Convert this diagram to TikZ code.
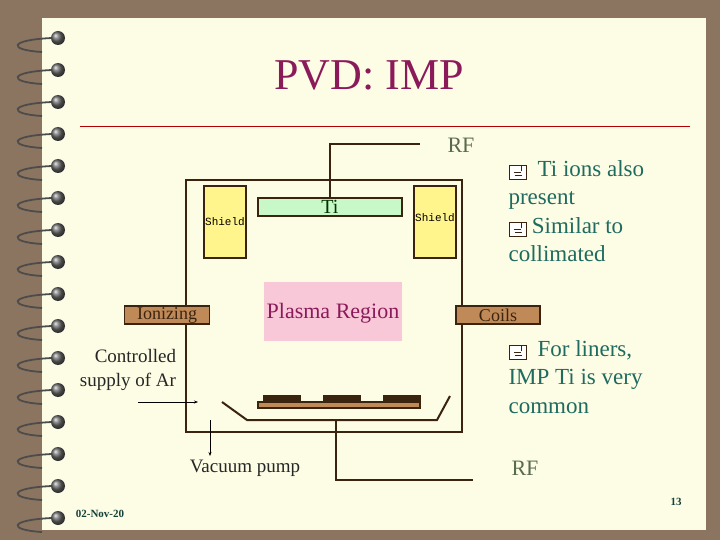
\documentclass[tikz,border=0pt]{standalone}
\usepackage{fontspec}
\setmainfont{Liberation Serif}
\newfontfamily\monof{Liberation Mono}
\usetikzlibrary{arrows.meta}
\definecolor{bgb}{HTML}{8B7560}
\definecolor{paper}{HTML}{FDFCE4}
\definecolor{teal}{HTML}{1F6B60}
\definecolor{wire}{HTML}{3A2410}
\definecolor{copper}{HTML}{C08A58}
\definecolor{shieldc}{HTML}{FFF58C}
\definecolor{tic}{HTML}{C8F8C8}
\definecolor{pink}{HTML}{F8C8D8}
\definecolor{titlec}{HTML}{8B1A5A}
\definecolor{grayg}{HTML}{5A6A50}
\newcommand{\envb}{\tikz[baseline=-1pt,x=1pt,y=1pt]{\draw[wire,line width=0.6pt,fill=white](0,-4)rectangle(17,10);\draw[wire,line width=0.8pt](5,3)--(12,3)(6,0)--(13,0)(13,4)--(13,9);}}
\begin{document}
\begin{tikzpicture}[x=1pt,y=-1pt,
  w/.style={draw=wire,line width=2pt},
  box/.style={draw=wire,line width=1.5pt,inner sep=0pt},
  lab/.style={font=\fontsize{18}{19}\selectfont,text=wire},
  shl/.style={box,fill=shieldc,minimum width=42pt,minimum height=72pt,font=\monof\fontsize{11}{11}\selectfont},
  bul/.style={font=\fontsize{23}{28.5}\selectfont,text=teal,align=left,anchor=north west}]
\useasboundingbox (0,0) rectangle (720,540);
\fill[bgb] (0,0) rectangle (720,540);
\fill[paper] (42,18) rectangle (706,530);
% spiral
\foreach \y in {38,70,...,518}{
  \draw[gray!60!black,line width=1.8pt] (42,\y+14) .. controls (8,\y+12) and (8,\y+2) .. (52,\y);
  \shade[ball color=black!60] (58,\y) circle (7);
  \node (s\y) at (58,\y) {};
}
\node[font=\fontsize{44}{48}\selectfont,text=titlec] (title) at (369,75) {PVD: IMP};
\draw[red!70!black,line width=0.8pt] (80,126) -- (690,126);
% chamber
\draw[w] (186,180) rectangle (462,432);
\node[shl] (sl) at (225,222) {Shield};
\node[shl,text depth=8pt] (sr) at (435,222) {Shield};
\node[box,fill=tic,minimum width=144pt,minimum height=18pt,font=\fontsize{20}{20}\selectfont,text=black!80!green] (ti) at (330,207) {Ti};
\coordinate (rfa) at (330,144);
\coordinate (rfb) at (420,144);
\draw[w] (ti.north) -- (rfa) -- (rfb);
\node[font=\fontsize{22}{22}\selectfont,text=grayg] (rf1) at (461,145) {RF};
\node[fill=pink,minimum width=138pt,minimum height=59pt,inner sep=0pt] (pl) at (333,311) {};
\node[font=\fontsize{22}{22}\selectfont,text=titlec] (plt) at (333,313) {Plasma Region};
\node[box,fill=copper,minimum width=85pt,minimum height=18pt,lab] (ion) at (167,315) {Ionizing};
\node[box,fill=copper,minimum width=84pt,minimum height=18pt,lab] (coil) at (498,315) {Coils};
% substrate
\node[box,fill=copper,minimum width=162pt,minimum height=6pt] (plate) at (339,405) {};
\foreach \x in {282,342,402}{\fill[wire] (\x-19,395) rectangle (\x+19,402);}
\coordinate (l1) at (222,402); \coordinate (l2) at (247,420);
\coordinate (r1) at (437,420); \coordinate (r2) at (450,396);
\draw[w] (l1) -- (l2) -- (r1) -- (r2);
\coordinate (st) at (336,420); \coordinate (sb) at (336,480); \coordinate (se) at (473,480);
\draw[w] (st) -- (sb) -- (se);
\node[font=\fontsize{22}{22}\selectfont,text=grayg] (rf2) at (525,468) {RF};
% arrows
\node[font=\fontsize{19}{24}\selectfont,align=right,text=black!85] (ar) at (128,370) {Controlled\\supply of Ar};
\coordinate (a1) at (138,402); \coordinate (a2) at (198,402);
\draw[-{Stealth[length=4pt]},line width=0.8pt] (a1) -- (a2);
\coordinate (v1) at (210,420); \coordinate (v2) at (210,456);
\draw[-{Stealth[length=4pt]},line width=0.8pt] (v1) -- (v2);
\node[font=\fontsize{19}{19}\selectfont,text=black!85] (vp) at (245,468) {Vacuum pump};
% bullets
\node[bul] (b1) at (505,157) {\envb\ \ Ti ions also\\present\\\envb\ Similar to\\collimated};
\node[bul] (b2) at (505,337) {\envb\ \ For liners,\\IMP Ti is very\\common};
\node[font=\bfseries\fontsize{11}{11}\selectfont,text=teal!60!black] (date) at (100,514) {02-Nov-20};
\node[font=\bfseries\fontsize{11}{11}\selectfont,text=teal!60!black] (pg) at (676,502) {13};
\end{tikzpicture}
\end{document}
